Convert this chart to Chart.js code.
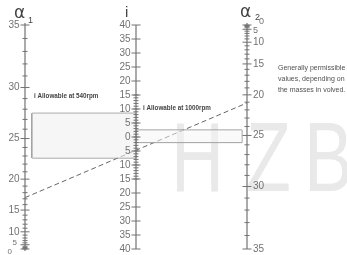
<!DOCTYPE html>
<html>
<head>
<meta charset="utf-8">
<script src="https://cdn.jsdelivr.net/npm/chart.js@4.4.1/dist/chart.umd.min.js"></script>
<style>
  html, body { margin:0; padding:0; background:#fff; }
  #wrap { width:347px; height:255px; }
</style>
</head>
<body>
<div id="wrap"><canvas id="nomo" width="347" height="255"></canvas></div>
<script>
"use strict";

// scale values of the three nomogram axes
const alpha1Ticks = [0, 5, 10, 15, 20, 25, 30, 35];
const alpha2Ticks = [0, 5, 10, 15, 20, 25, 30, 35];
const iTicks      = [-40, -35, -30, -25, -20, -15, -10, -5, 0, 5, 10, 15, 20, 25, 30, 35, 40];
const iFineRange  = [-15, 15];           // 1-unit minor ticks in this band
// allowable i bands (low, high)
const allowable540  = [-7.5, 8.5];
const allowable1000 = [-2, 2.5];
// example reading: alpha1 -> alpha2
const exampleAlpha1 = 17.2;
const exampleAlpha2 = 21.1;
const label540  = 'i Allowable at 540rpm';
const label1000 = 'i Allowable at 1000rpm';
const noteLines = ['Generally permissible', 'values, depending on', 'the masses in volved.'];

// angle -> i-units on the shared vertical scale
const RAD  = Math.PI / 180;
const LMAX = Math.log(1 / Math.cos(35 * RAD));
function a1y(a) { return -40 + 80 * Math.log(1 / Math.cos(a * RAD)) / LMAX; }
function a2y(a) { return  40 - 80 * Math.log(1 / Math.cos(a * RAD)) / LMAX; }

function rectPath(x0, x1, band) {
  return [{x:x0,y:band[0]}, {x:x1,y:band[0]}, {x:x1,y:band[1]}, {x:x0,y:band[1]}, {x:x0,y:band[0]}];
}

const NUM_FONT = '"Liberation Sans", Arial, sans-serif';
const GREY = '#727272';

const watermark = {
  id: 'watermark',
  beforeDatasetsDraw(chart) {
    const ctx = chart.ctx;
    ctx.save();
    ctx.fillStyle = '#e9e9e9';
    ctx.font = '98px ' + NUM_FONT;
    ctx.textBaseline = 'alphabetic';
    ctx.translate(0, 191);
    ctx.scale(0.75, 1);
    ctx.fillText('H', 171 / 0.75, 0);
    ctx.fillText('Z', 246 / 0.75, 0);
    ctx.fillText('B', 304 / 0.75, 0);
    ctx.restore();
  }
};

const nomogram = {
  id: 'nomogram',
  afterDatasetsDraw(chart) {
    const {ctx, scales:{x, y}} = chart;
    const xa1 = x.getPixelForValue(0), xi = x.getPixelForValue(1), xa2 = x.getPixelForValue(2);

    function vline(px, y0, y1) { ctx.beginPath(); ctx.moveTo(px, y0); ctx.lineTo(px, y1); ctx.stroke(); }
    function tick(px, py, h) { ctx.beginPath(); ctx.moveTo(px - h, py); ctx.lineTo(px + h, py); ctx.stroke(); }

    ctx.save();
    ctx.strokeStyle = GREY;
    ctx.lineWidth = 1.2;
    vline(xa1, y.getPixelForValue(a1y(35)) - 2, y.getPixelForValue(a1y(0)) + 2);
    vline(xi,  y.getPixelForValue(40), y.getPixelForValue(-40));
    vline(xa2, y.getPixelForValue(a2y(0)) - 2, y.getPixelForValue(a2y(35)));

    ctx.lineWidth = 1;
    for (let a = 0; a <= 35; a++) {
      const major = alpha1Ticks.includes(a);
      tick(xa1, y.getPixelForValue(a1y(a)), major ? 4.5 : 2.5);
      tick(xa2, y.getPixelForValue(a2y(a)), major ? 4.5 : 2.5);
    }
    for (let v = iFineRange[0]; v <= iFineRange[1]; v++) tick(xi, y.getPixelForValue(v), 2.5);
    iTicks.forEach(v => tick(xi, y.getPixelForValue(v), 4.5));

    // tick labels
    ctx.fillStyle = GREY;
    ctx.textBaseline = 'middle';
    ctx.font = '10px ' + NUM_FONT;
    ctx.textAlign = 'right';
    alpha1Ticks.forEach(a => {
      const py = y.getPixelForValue(a1y(a));
      if (a === 0)      { ctx.font = '8px ' + NUM_FONT; ctx.fillText('0', xa1 - 13, py + 3); }
      else if (a === 5) { ctx.font = '8px ' + NUM_FONT; ctx.fillText('5', xa1 - 8, py - 2); }
      else              { ctx.font = '10px ' + NUM_FONT; ctx.fillText(String(a), xa1 - 5.5, py); }
    });
    ctx.font = '10px ' + NUM_FONT;
    iTicks.forEach(v => ctx.fillText(String(Math.abs(v)), xi - 5.5, y.getPixelForValue(v)));
    ctx.textAlign = 'left';
    alpha2Ticks.forEach(a => {
      const py = y.getPixelForValue(a2y(a));
      if (a === 0)      { ctx.font = '9px ' + NUM_FONT; ctx.fillText('0', xa2 + 12, py - 3); }
      else if (a === 5) { ctx.font = '9px ' + NUM_FONT; ctx.fillText('5', xa2 + 6, py + 1); }
      else              { ctx.font = '10px ' + NUM_FONT; ctx.fillText(String(a), xa2 + 6, py); }
    });

    // axis titles
    ctx.textBaseline = 'alphabetic';
    ctx.fillStyle = '#444';
    ctx.font = '17px "DejaVu Sans", sans-serif';
    ctx.fillText('\u03b1', xa1 - 11, 18);
    ctx.fillText('\u03b1', xa2 - 7, 17);
    ctx.font = '15px ' + NUM_FONT;
    ctx.fillText('i', xi - 11, 17);
    ctx.font = '9px ' + NUM_FONT;
    ctx.fillText('1', xa1 + 3, 23);
    ctx.fillText('2', xa2 + 8, 20);

    // annotations
    ctx.fillStyle = '#444';
    ctx.font = 'bold 6.3px ' + NUM_FONT;
    ctx.fillText(label540, xa1 + 9, y.getPixelForValue(allowable540[1]) - 15);
    ctx.fillText(label1000, xi + 7, y.getPixelForValue(allowable1000[1]) - 20);
    ctx.fillStyle = '#505050';
    ctx.font = '7px ' + NUM_FONT;
    noteLines.forEach((t, k) => ctx.fillText(t, xa2 + 31, 70 + k * 11));
    ctx.restore();
  }
};

new Chart(document.getElementById('nomo').getContext('2d'), {
  type: 'scatter',
  data: {
    datasets: [
      { data: [{x:0.064, y:allowable540[1]}, {x:1, y:allowable540[1]}],
        showLine:true, borderWidth:0, pointRadius:0, clip:false,
        fill:{ target:{ value: allowable540[0] } }, backgroundColor:'rgba(240,240,240,0.6)' },
      { data: rectPath(0.064, 1, allowable540),
        showLine:true, borderWidth:1, borderColor:'#8a8a8a', pointRadius:0, fill:false, clip:false },
      { data: [{x:1, y:allowable1000[1]}, {x:1.955, y:allowable1000[1]}],
        showLine:true, borderWidth:0, pointRadius:0, clip:false,
        fill:{ target:{ value: allowable1000[0] } }, backgroundColor:'rgba(245,245,245,0.5)' },
      { data: rectPath(1, 1.955, allowable1000),
        showLine:true, borderWidth:1, borderColor:'#8a8a8a', pointRadius:0, fill:false, clip:false },
      { data: [{x:0, y:a1y(exampleAlpha1)}, {x:2, y:a2y(exampleAlpha2)}],
        showLine:true, borderWidth:1, borderColor:'#666', borderDash:[5,3], pointRadius:0, fill:false, clip:false }
    ]
  },
  options: {
    responsive:false,
    animation:false,
    layout:{ padding:{ left:25, right:100, top:25, bottom:6 } },
    plugins:{ legend:{ display:false }, tooltip:{ enabled:false } },
    scales:{
      x:{ type:'linear', min:0, max:2, display:false },
      y:{ type:'linear', min:-40, max:40, display:false }
    }
  },
  plugins:[watermark, nomogram]
});
</script>
</body>
</html>
